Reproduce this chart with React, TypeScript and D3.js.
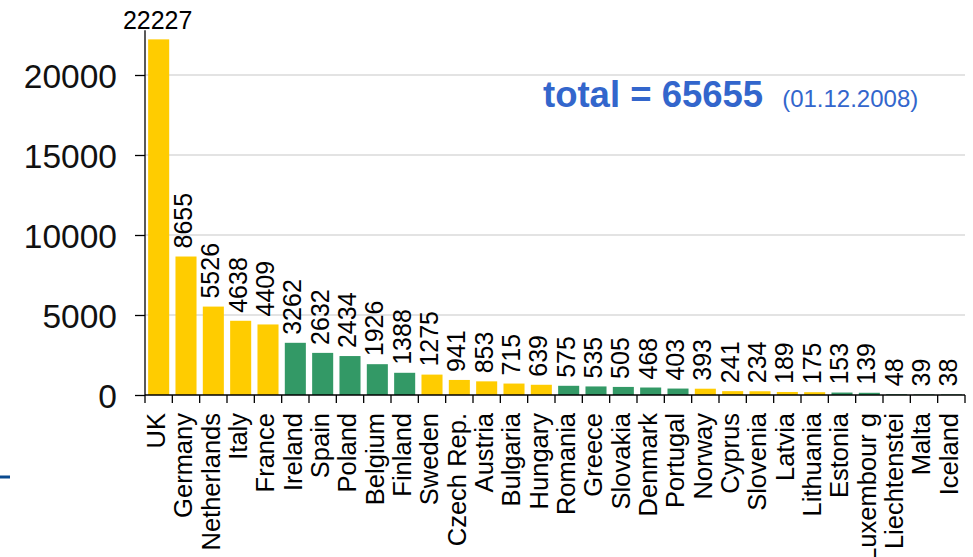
import { useRef, useEffect } from "react";
import * as d3 from "d3";

// countries, ordered by number of items
const countries = [
  "UK", "Germany", "Netherlands", "Italy", "France",
  "Ireland", "Spain", "Poland", "Belgium", "Finland",
  "Sweden", "Czech Rep.", "Austria", "Bulgaria", "Hungary",
  "Romania", "Greece", "Slovakia", "Denmark", "Portugal",
  "Norway", "Cyprus", "Slovenia", "Latvia", "Lithuania",
  "Estonia", "Luxembour g", "Liechtenstei", "Malta", "Iceland",
];
const values = [
  22227, 8655, 5526, 4638, 4409,
  3262, 2632, 2434, 1926, 1388,
  1275, 941, 853, 715, 639,
  575, 535, 505, 468, 403,
  393, 241, 234, 189, 175,
  153, 139, 48, 39, 38,
];
// colour groups alternate every five countries
const groups = [
  "y", "y", "y", "y", "y",
  "g", "g", "g", "g", "g",
  "y", "y", "y", "y", "y",
  "g", "g", "g", "g", "g",
  "y", "y", "y", "y", "y",
  "g", "g", "g", "g", "g",
];
const yTicks = [0, 5000, 10000, 15000, 20000];
const totalText = "total = 65655";
const dateText = "(01.12.2008)";

const colors = { y: "#FFCC00", g: "#339966" };
const font = "'Liberation Sans', Arial, sans-serif";

const App = () => {
  const svgRef = useRef<SVGSVGElement>(null);
  const width = 973;
  const height = 557;
  const left = 145;
  const right = 965;
  const base = 395;

  useEffect(() => {
    const svg = d3.select(svgRef.current);
    svg.selectAll("*").remove();

    const y = d3.scaleLinear().domain([0, 20000]).range([base, 75]);
    const x = d3.scaleBand<string>()
      .domain(countries)
      .range([left, right])
      .paddingInner(0.23)
      .paddingOuter(0.115);
    const xs = d3.scaleBand<string>().domain(countries).range([left, right]);

    // gridlines
    svg.append("g")
      .selectAll("line")
      .data(yTicks.slice(1))
      .enter()
      .append("line")
      .attr("x1", left)
      .attr("x2", right)
      .attr("y1", d => y(d))
      .attr("y2", d => y(d))
      .attr("stroke", "#c8c8c8")
      .attr("stroke-width", 1.2);

    const data = countries.map((c, i) => ({ c, v: values[i], g: groups[i] }));

    svg.selectAll(".bar")
      .data(data)
      .enter()
      .append("rect")
      .attr("class", "bar")
      .attr("x", d => x(d.c)!)
      .attr("y", d => y(d.v))
      .attr("width", x.bandwidth())
      .attr("height", d => base - y(d.v))
      .attr("fill", d => colors[d.g as "y" | "g"]);

    // y axis
    const ya = svg.append("g")
      .attr("transform", `translate(${left},0)`)
      .call(d3.axisLeft(y).tickValues(yTicks).tickSize(10).tickPadding(18).tickFormat(d3.format("d")));
    ya.select(".domain").remove();
    ya.selectAll("line").attr("stroke", "#000").attr("stroke-width", 1.3);
    ya.selectAll("text")
      .attr("font-family", font)
      .attr("font-size", 33.5)
      .attr("fill", "#111")
      .attr("dy", "0.36em");
    svg.append("line")
      .attr("x1", left).attr("x2", left)
      .attr("y1", y(22800)).attr("y2", base)
      .attr("stroke", "#000").attr("stroke-width", 1.3);

    // x axis
    svg.append("line")
      .attr("x1", left).attr("x2", right)
      .attr("y1", base).attr("y2", base)
      .attr("stroke", "#000").attr("stroke-width", 1.3);
    const bounds = countries.map(c => xs(c)!).concat([right]);
    svg.append("g")
      .selectAll("line")
      .data(bounds)
      .enter()
      .append("line")
      .attr("x1", d => d).attr("x2", d => d)
      .attr("y1", base).attr("y2", base + 8)
      .attr("stroke", "#000").attr("stroke-width", 1.3);

    // category labels
    svg.append("g")
      .selectAll("text")
      .data(data)
      .enter()
      .append("text")
      .attr("transform", d => `translate(${x(d.c)! + x.bandwidth() / 2 - 3},${base + 18}) rotate(-90)`)
      .attr("dy", "0.36em")
      .attr("text-anchor", "end")
      .attr("font-family", font)
      .attr("font-size", 25.5)
      .attr("fill", "#000")
      .text(d => d.c);

    // value labels
    svg.append("g")
      .selectAll("text")
      .data(data)
      .enter()
      .append("text")
      .attr("transform", (d, i) => i === 0
        ? `translate(${x(d.c)! + x.bandwidth() / 2 - 1},${y(d.v) - 10})`
        : `translate(${x(d.c)! + x.bandwidth() / 2 - 3},${y(d.v) - 8}) rotate(-90)`)
      .attr("dy", (d, i) => i === 0 ? null : "0.36em")
      .attr("text-anchor", (d, i) => i === 0 ? "middle" : "start")
      .attr("font-family", font)
      .attr("font-size", 25)
      .attr("fill", "#000")
      .text(d => d.v);

    // total annotation
    const t = svg.append("text")
      .attr("x", 543)
      .attr("y", 107)
      .attr("font-family", font)
      .attr("fill", "#3366CC");
    t.append("tspan").attr("font-size", 36.5).attr("font-weight", "bold").text(totalText);
    t.append("tspan").attr("font-size", 24).attr("dx", 19).text(dateText);

    // little blue mark at the left edge
    svg.append("line")
      .attr("x1", 0).attr("x2", 10)
      .attr("y1", 477).attr("y2", 477)
      .attr("stroke", "#0B4A8F").attr("stroke-width", 3);
  }, []);

  return (
    <svg
      ref={svgRef}
      width={width}
      height={height}
      style={{ position: "absolute", left: 0, top: 0, background: "#fff" }}
    />
  );
};

export default App;
